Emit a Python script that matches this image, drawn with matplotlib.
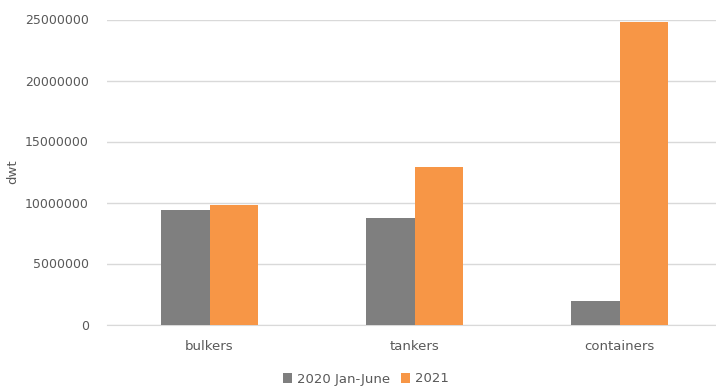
import matplotlib
matplotlib.use("Agg")
import matplotlib.pyplot as plt
import numpy as np

categories = ["bulkers", "tankers", "containers"]
series_names = ["2020 Jan-June", "2021"]
values_2020 = [9400000, 8700000, 1900000]
values_2021 = [9800000, 12900000, 24800000]
colors = ["#7F7F7F", "#F79646"]
yticks = [0, 5000000, 10000000, 15000000, 20000000, 25000000]

plt.rcParams['font.family'] = ['DejaVu Sans']
fig = plt.figure(figsize=(7.16, 3.87), dpi=100)
W, H = 716, 387
left, right = 107, 722
bottom, top = 324.5, 19.5
ax = fig.add_axes([left / W, (H - bottom) / H, (right - left) / W, (bottom - top) / H])

x = np.arange(len(categories))
bw = 0.236
ax.bar(x - bw / 2, values_2020, bw, color=colors[0], label=series_names[0], zorder=3)
ax.bar(x + bw / 2, values_2021, bw, color=colors[1], label=series_names[1], zorder=3)

ax.set_xlim(-0.5, len(categories) - 0.5)
ax.set_ylim(0, 25000000)
ax.set_yticks(yticks)
ax.set_yticklabels([str(v) for v in yticks])
ax.set_xticks(x)
ax.set_xticklabels(categories)
ax.grid(axis='y', color='#D9D9D9', linewidth=1, zorder=0)
for s in ['top', 'right', 'left']:
    ax.spines[s].set_visible(False)
ax.spines['bottom'].set_color('#D9D9D9')
ax.tick_params(axis='x', length=0, colors='#595959', labelsize=9.5, pad=11)
ax.tick_params(axis='y', length=0, colors='#595959', labelsize=9, pad=13)
ax.set_ylabel('dwt', color='#595959', fontsize=9.5)
ax.yaxis.set_label_coords(-88 / (right - left), 0.5)

fig.legend(loc='center', bbox_to_anchor=(366 / W, (H - 379) / H), ncol=2, frameon=False,
           fontsize=9.5, labelcolor='#595959', handlelength=0.7, handleheight=0.7,
           columnspacing=0.8, handletextpad=0.4)

fig.savefig('out.png', dpi=100)
